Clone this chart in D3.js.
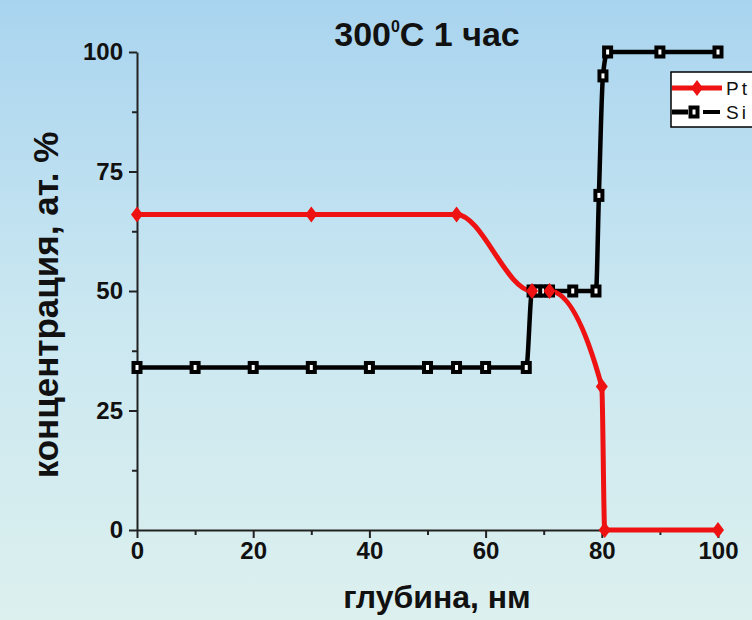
<!DOCTYPE html>
<html>
<head>
<meta charset="utf-8">
<script src="https://cdn.jsdelivr.net/npm/d3@7"></script>
<style>
body { margin: 0; padding: 0; overflow: hidden; }
svg { display: block; }
text { font-family: "Liberation Sans", Arial, sans-serif; fill: #111; }
</style>
</head>
<body>
<div id="chart"></div>
<script>
// depth, nm
var ptDepth = [0, 30, 55, 68, 71, 80, 80.5, 100];
var ptConc  = [66, 66, 66, 50, 50, 30, 0, 0];
var siDepth = [0, 10, 20, 30, 40, 50, 55, 60, 67, 68, 69, 70, 71, 75, 79, 79.5, 80.2, 81, 90, 100];
var siConc  = [34, 34, 34, 34, 34, 34, 34, 34, 34, 50, 50, 50, 50, 50, 50, 70, 95, 100, 100, 100];
var xTicks = [0, 20, 40, 60, 80, 100];
var xMinor = [10, 30, 50, 70, 90];
var yTicks = [0, 25, 50, 75, 100];
var yMinor = [12.5, 37.5, 62.5, 87.5];
var seriesNames = ["Pt", "Si"];

var width = 752, height = 620;
var red = "#ee1212";

var svg = d3.select("#chart").append("svg")
    .attr("width", width).attr("height", height);

var defs = svg.append("defs");
var grad = defs.append("linearGradient").attr("id", "bg")
    .attr("x1", 0).attr("y1", 0).attr("x2", 0).attr("y2", 1);
grad.append("stop").attr("offset", "0%").attr("stop-color", "#a9d4ef");
grad.append("stop").attr("offset", "50%").attr("stop-color", "#cae7f1");
grad.append("stop").attr("offset", "100%").attr("stop-color", "#dcf0ee");
svg.append("rect").attr("width", width).attr("height", height).attr("fill", "url(#bg)");

var x = d3.scaleLinear().domain([0, 100]).range([137, 718]);
var y = d3.scaleLinear().domain([0, 100]).range([530, 52]);

// axes
svg.append("g").attr("transform", "translate(0," + y(0) + ")")
    .call(d3.axisBottom(x).tickValues(xTicks).tickSize(8).tickSizeOuter(0).tickPadding(4));
svg.append("g").attr("transform", "translate(0," + y(0) + ")")
    .call(d3.axisBottom(x).tickValues(xMinor).tickSize(5).tickSizeOuter(0).tickFormat(""))
    .select(".domain").remove();
svg.append("g").attr("transform", "translate(" + x(0) + ",0)")
    .call(d3.axisLeft(y).tickValues(yTicks).tickSize(8).tickSizeOuter(0).tickPadding(6));
svg.append("g").attr("transform", "translate(" + x(0) + ",0)")
    .call(d3.axisLeft(y).tickValues(yMinor).tickSize(5).tickSizeOuter(0).tickFormat(""))
    .select(".domain").remove();

svg.selectAll(".domain").attr("stroke", "#222").attr("stroke-width", 2);
svg.selectAll(".tick line").attr("stroke", "#222").attr("stroke-width", 2);
svg.selectAll(".tick text")
    .style("font-family", "'Liberation Sans', Arial, sans-serif")
    .style("font-size", "24px").style("font-weight", "bold").attr("fill", "#111");

// lines
var line = d3.line()
    .x(function(d) { return x(d[0]); })
    .y(function(d) { return y(d[1]); })
    .curve(d3.curveMonotoneX);

var ptData = ptDepth.map(function(d, i) { return [d, ptConc[i]]; });
var siData = siDepth.map(function(d, i) { return [d, siConc[i]]; });

svg.append("path").datum(siData)
    .attr("d", line).attr("fill", "none")
    .attr("stroke", "#000").attr("stroke-width", 4.5);
svg.append("path").datum(ptData)
    .attr("d", line).attr("fill", "none")
    .attr("stroke", red).attr("stroke-width", 5);

// markers
function diamond(g, cx, cy) {
    g.append("path")
        .attr("d", "M" + cx + "," + (cy - 8) + "L" + (cx + 6) + "," + cy + "L" + cx + "," + (cy + 8) + "L" + (cx - 6) + "," + cy + "Z")
        .attr("fill", red);
}
function square(g, cx, cy) {
    g.append("rect")
        .attr("x", cx - 3.5).attr("y", cy - 4.5)
        .attr("width", 7).attr("height", 9)
        .attr("fill", "#fff").attr("stroke", "#000").attr("stroke-width", 4);
}
var markers = svg.append("g");
siData.forEach(function(d) { square(markers, x(d[0]), y(d[1])); });
ptData.forEach(function(d) { diamond(markers, x(d[0]), y(d[1])); });

// legend
var lg = svg.append("g");
lg.append("rect").attr("x", 671).attr("y", 72).attr("width", 90).attr("height", 55)
    .attr("fill", "#fff").attr("stroke", "#000").attr("stroke-width", 1.5);
lg.append("line").attr("x1", 672).attr("x2", 722).attr("y1", 88).attr("y2", 88)
    .attr("stroke", red).attr("stroke-width", 5);
diamond(lg, 697, 88);
lg.append("line").attr("x1", 672).attr("x2", 688).attr("y1", 112).attr("y2", 112)
    .attr("stroke", "#000").attr("stroke-width", 5);
lg.append("line").attr("x1", 703).attr("x2", 720).attr("y1", 112).attr("y2", 112)
    .attr("stroke", "#000").attr("stroke-width", 4);
square(lg, 694, 112);
lg.selectAll("text.lbl").data(seriesNames).enter().append("text")
    .attr("class", "lbl")
    .attr("x", 726).attr("y", function(d, i) { return 95 + i * 24; })
    .style("font-size", "19px").style("letter-spacing", "3px")
    .text(function(d) { return d; });

// title
var title = svg.append("text").attr("x", 427).attr("y", 46)
    .attr("text-anchor", "middle")
    .style("font-size", "34px").style("font-weight", "bold");
title.append("tspan").text("300");
title.append("tspan").attr("dy", -14).style("font-size", "16px").text("0");
title.append("tspan").attr("dy", 14).text("C 1 час");

// axis titles
svg.append("text").attr("x", 437).attr("y", 608)
    .attr("text-anchor", "middle")
    .style("font-size", "32px").style("font-weight", "bold")
    .text("глубина, нм");
svg.append("text").attr("transform", "translate(58,305) rotate(-90)")
    .attr("text-anchor", "middle")
    .style("font-size", "35px").style("font-weight", "bold")
    .text("концентрация, ат. %");
</script>
</body>
</html>
